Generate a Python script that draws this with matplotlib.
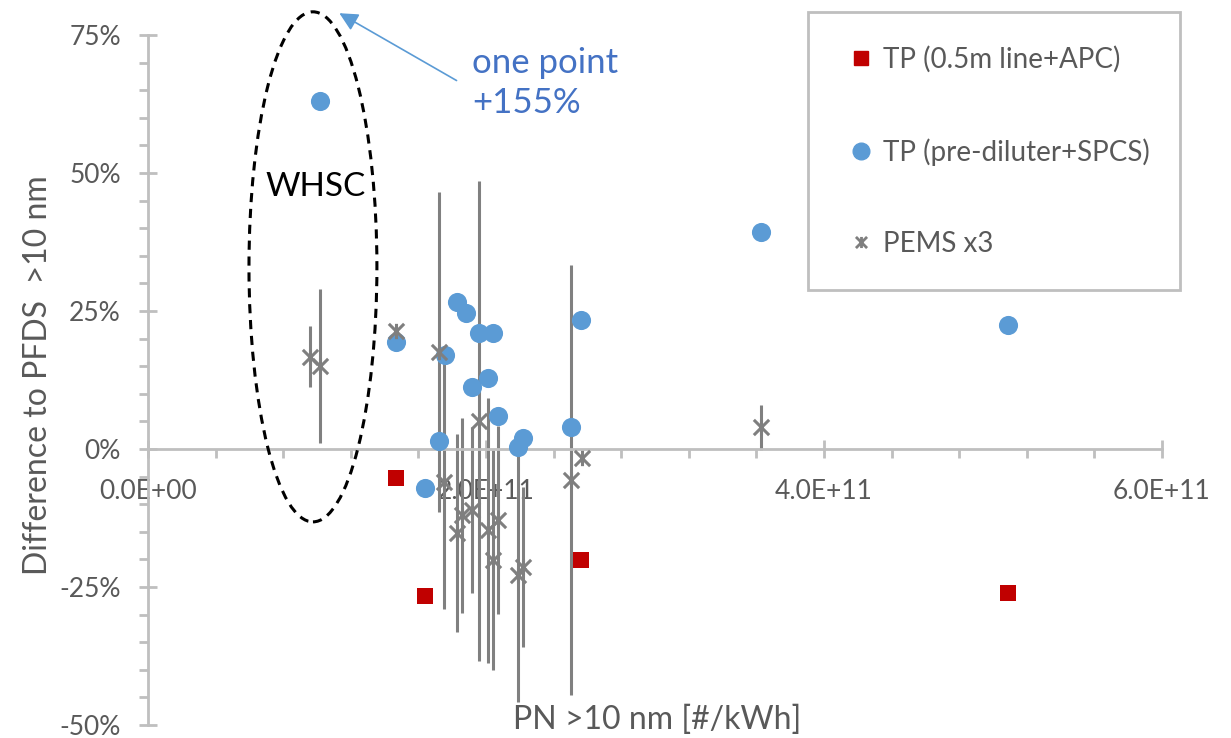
import matplotlib
matplotlib.use("Agg")
import matplotlib.pyplot as plt
from matplotlib.patches import Ellipse, Rectangle
from matplotlib.path import Path
from matplotlib.lines import Line2D

plt.rcParams['font.family'] = ['Lato', 'DejaVu Sans']

# TP (0.5m line+APC)
apc_x = [1.47e11, 1.64e11, 2.56e11, 5.09e11]
apc_y = [-5.3, -26.6, -20.1, -26.1]

# TP (pre-diluter+SPCS)
spcs_x = [1.02e11, 1.47e11, 1.72e11, 1.76e11, 1.64e11, 1.83e11, 1.88e11, 1.96e11, 2.04e11,
          1.92e11, 2.01e11, 2.07e11, 2.19e11, 2.22e11, 2.50e11, 2.56e11, 3.63e11, 5.09e11]
spcs_y = [63.0, 19.4, 1.4, 17.0, -7.1, 26.6, 24.6, 21.0, 21.0,
          11.2, 12.9, 6.0, 0.4, 2.0, 4.0, 23.4, 39.3, 22.5]

# PEMS x3, with spread between the three units
pems_x = [0.96e11, 1.02e11, 1.47e11, 1.72e11, 1.75e11, 1.83e11, 1.86e11, 1.92e11, 1.96e11,
          2.01e11, 2.04e11, 2.07e11, 2.19e11, 2.22e11, 2.50e11, 2.57e11, 3.63e11]
pems_y = [16.7, 15.0, 21.4, 17.6, -6.0, -15.2, -12.0, -11.1, 5.1,
          -14.7, -20.1, -12.9, -22.8, -21.4, -5.6, -1.6, 3.9]
pems_err = [5.5, 14.0, 0.0, 29.0, 23.0, 18.0, 17.7, 15.0, 43.5,
            24.0, 20.0, 17.0, 23.0, 14.5, 39.0, 0.0, 4.0]

x_ticks = [0, 2e11, 4e11, 6e11]
x_labels = ['0.0E+00', '2.0E+11', '4.0E+11', '6.0E+11']
y_ticks = [-50, -25, 0, 25, 50, 75]
y_labels = ['-50%', '-25%', '0%', '25%', '50%', '75%']

RED = '#C00000'
BLUE = '#5B9BD5'
GREY = '#7F7F7F'
AXIS = '#BFBFBF'
TEXT = '#595959'

star = Path([(-1, -1), (1, 1), (-1, 1), (1, -1), (0, -1), (0, 1)],
            [Path.MOVETO, Path.LINETO, Path.MOVETO, Path.LINETO, Path.MOVETO, Path.LINETO])


def draw():
    fig = plt.figure(figsize=(12.31, 7.38), dpi=100)
    ax = fig.add_axes([148 / 1231, 1 - 725 / 738, 1014 / 1231, 690 / 738])

    ax.errorbar(pems_x, pems_y, yerr=pems_err, fmt='none', ecolor='#808080',
                elinewidth=2.2, capsize=0, zorder=2)
    ax.scatter(apc_x, apc_y, marker='s', s=130, color=RED, zorder=3, linewidths=0)
    ax.scatter(spcs_x, spcs_y, marker='o', s=190, color=BLUE, zorder=4, linewidths=0)
    ax.plot(pems_x, pems_y, linestyle='none', marker=star, markersize=11,
            markeredgewidth=2.2, color=GREY, zorder=5)

    ax.set_xlim(0, 6e11)
    ax.set_ylim(-50, 75)
    ax.spines['top'].set_visible(False)
    ax.spines['right'].set_visible(False)
    ax.spines['bottom'].set_position(('data', 0))
    for s in ['left', 'bottom']:
        ax.spines[s].set_color(AXIS)
        ax.spines[s].set_linewidth(2)

    ax.set_xticks(x_ticks)
    ax.set_xticklabels(x_labels)
    ax.set_xticks([i * 0.4e11 for i in range(16)], minor=True)
    ax.set_yticks(y_ticks)
    ax.set_yticklabels(y_labels)
    ax.set_yticks(range(-50, 76, 5), minor=True)
    ax.tick_params(which='major', direction='inout', length=13, width=2, color=AXIS,
                   labelsize=19, labelcolor=TEXT)
    ax.tick_params(axis='x', which='major', pad=15)
    ax.tick_params(axis='y', which='major', pad=13)
    ax.tick_params(which='minor', direction='out', length=6.5, width=2, color=AXIS)

    # WHSC ellipse and note
    ax.add_patch(Ellipse((0.976e11, 33.0), 0.757e11, 92.4, fill=False, edgecolor='black',
                         linewidth=2.2, linestyle=(0, (3, 2.2)), clip_on=False, zorder=6))
    ax.text(0.99e11, 47.5, 'WHSC', fontsize=24, color='black', ha='center', va='center')
    ax.annotate('', xy=(1.118e11, 79.2), xytext=(1.84e11, 66.5), annotation_clip=False,
                arrowprops=dict(arrowstyle='-|>', color=BLUE, lw=1.2, mutation_scale=28))
    ax.text(1.92e11, 66.3, 'one point\n+155%', fontsize=25, color='#4472C4',
            ha='left', va='center', linespacing=1.3)

    fig.text(38 / 1231, 1 - 375 / 738, 'Difference to PFDS  >10 nm', rotation=90,
             fontsize=23, color=TEXT, ha='center', va='center')
    fig.text(657 / 1231, 1 - 720 / 738, 'PN >10 nm [#/kWh]', fontsize=23, color=TEXT,
             ha='center', va='center')

    # legend with a square frame
    fig.patches.append(Rectangle((808 / 1231, 1 - 290 / 738), 372 / 1231, 278 / 738,
                                 transform=fig.transFigure, fill=False,
                                 edgecolor=AXIS, linewidth=2))
    handles = [
        Line2D([], [], linestyle='none', marker='s', markersize=10, color=RED),
        Line2D([], [], linestyle='none', marker='o', markersize=12, color=BLUE),
        Line2D([], [], linestyle='none', marker=star, markersize=8, markeredgewidth=2,
               color=GREY),
    ]
    fig.legend(handles, ['TP (0.5m line+APC)', 'TP (pre-diluter+SPCS)', 'PEMS x3'],
               loc='upper left', bbox_to_anchor=(833 / 1231, 1 - 32 / 738), frameon=False,
               fontsize=20, labelcolor=TEXT, borderpad=0, labelspacing=2.35,
               handlelength=1.0, handletextpad=0.3)

    fig.savefig('out.png', dpi=100)


if __name__ == '__main__':
    draw()
